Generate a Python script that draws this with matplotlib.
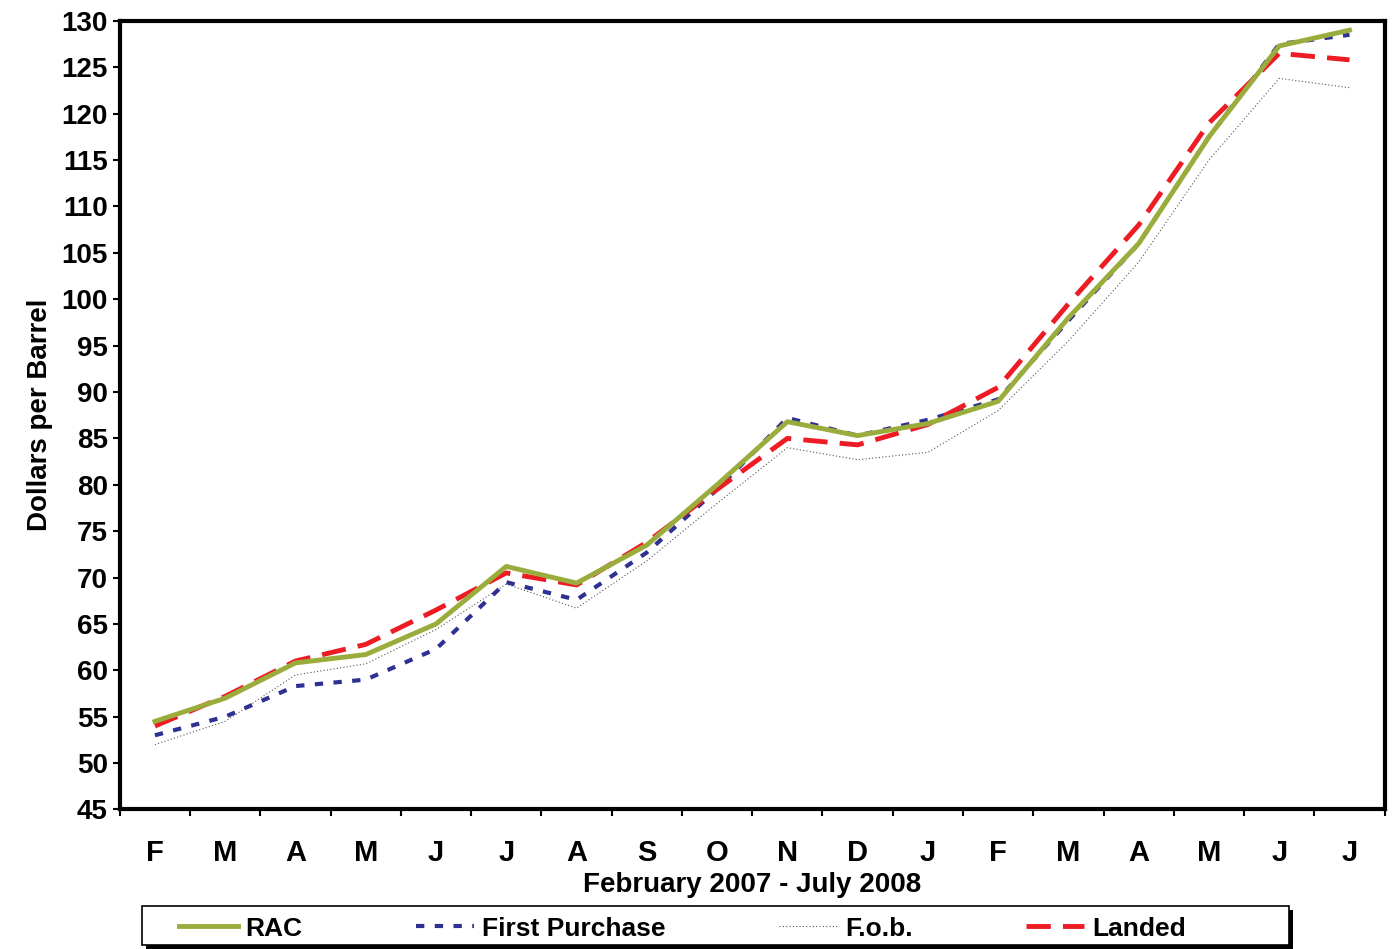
import matplotlib.pyplot as plt
from matplotlib.patches import Rectangle

months = ['F', 'M', 'A', 'M', 'J', 'J', 'A', 'S', 'O', 'N', 'D', 'J',
          'F', 'M', 'A', 'M', 'J', 'J']
rac = [54.5, 57, 60.8, 61.7, 65, 71.2, 69.4, 73.5, 80, 86.8, 85.3, 86.6,
       89, 98, 106, 117.5, 127.3, 129]
first_purchase = [53, 55, 58.3, 59, 62.3, 69.5, 67.6, 72.7, 79.5, 87.2, 85.3, 87,
                  89.2, 97.7, 106, 117.5, 127.5, 128.5]
fob = [52, 54.5, 59.5, 60.7, 64.4, 69.3, 66.7, 71.8, 78, 84, 82.7, 83.5,
       88, 95.5, 104, 115, 123.8, 122.8]
landed = [54, 57.2, 61, 62.8, 66.5, 70.5, 69.2, 73.8, 79.5, 85, 84.3, 86.5,
          90.5, 99.5, 108, 119, 126.5, 125.8]

plt.rcParams['font.family'] = ['Liberation Sans', 'DejaVu Sans']
plt.rcParams['font.weight'] = 'bold'

fig = plt.figure(figsize=(13.93, 9.49), dpi=100)
ax = fig.add_axes([0.086, 0.147, 0.908, 0.831])
x = list(range(len(months)))

ax.plot(x, fob, color='#555555', lw=0.8, ls=(0, (1, 2)), label='F.o.b.')
ax.plot(x, first_purchase, color='#2e3192', lw=3, ls=(0, (2, 2.5)), label='First Purchase')
ax.plot(x, landed, color='#ed1c24', lw=3.5, ls=(0, (5, 2.5)), label='Landed')
ax.plot(x, rac, color='#9aad3c', lw=3.5, label='RAC')

ax.set_xlim(-0.5, len(months) - 0.5)
ax.set_ylim(45, 130)
ax.set_yticks(range(45, 131, 5))
ax.set_xticks(x)
ax.set_xticklabels(months)
ax.set_xticks([i - 0.5 for i in range(len(months) + 1)], minor=True)
ax.tick_params(axis='x', which='major', length=0, labelsize=21, pad=21)
ax.tick_params(axis='x', which='minor', length=5, width=1.5)
ax.tick_params(axis='y', labelsize=20, length=5, width=1.5)
for s in ax.spines.values():
    s.set_linewidth(3)
ax.set_ylabel('Dollars per Barrel', fontsize=20, fontweight='bold', labelpad=6)
ax.set_xlabel('February 2007 - July 2008', fontsize=20, fontweight='bold', labelpad=4)

# legend box with shadow
fig.patches.append(Rectangle((0.105, 0.0), 0.823, 0.041, transform=fig.transFigure,
                             facecolor='black', edgecolor='none'))
fig.patches.append(Rectangle((0.102, 0.004), 0.823, 0.041, transform=fig.transFigure,
                             facecolor='white', edgecolor='black', lw=1.2))
h, l = ax.get_legend_handles_labels()
order = [3, 1, 0, 2]
fig.legend([h[i] for i in order], [l[i] for i in order], loc='center',
           bbox_to_anchor=(0.49, 0.0215), ncol=4, frameon=False, fontsize=19,
           columnspacing=4.3, handlelength=2.2, handletextpad=0.3)

fig.savefig('out.png')
